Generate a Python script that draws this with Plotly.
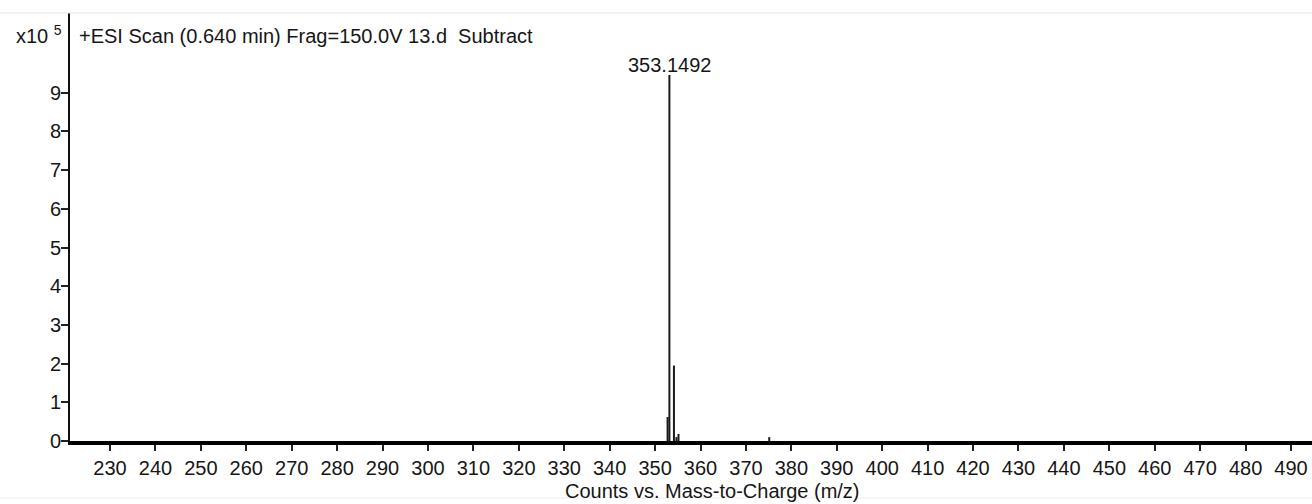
import plotly.graph_objects as go

# ---- data ----
mz = [352.75, 353.1492, 354.15, 354.70, 355.15, 375.13]
intensity = [0.62, 9.46, 1.95, 0.10, 0.18, 0.10]   # x10^5 counts
x_ticks = list(range(230, 491, 10))
y_ticks = list(range(0, 10))
peak_label = "353.1492"
title_text = "+ESI Scan (0.640 min) Frag=150.0V 13.d \u00a0Subtract"
x_title = "Counts vs. Mass-to-Charge (m/z)"

# stick spectrum built from the arrays
xs, ys = [], []
for m, h in zip(mz, intensity):
    xs += [m, m, None]
    ys += [0, h, None]

W, H = 1312, 504
ML, MR, MT, MB = 70, 0, 13, 63
PW, PH = W - ML - MR, H - MT - MB

def px(x):
    return (x - ML) / PW

def py(y):
    return (H - MB - y) / PH

FONT = "Liberation Sans, Arial, sans-serif"
TXT = "#161616"
FS = 20

fig = go.Figure()
fig.add_trace(go.Scatter(x=xs, y=ys, mode="lines",
                         line=dict(color="#1a1a1a", width=2),
                         hoverinfo="skip", showlegend=False))

fig.update_layout(
    width=W, height=H,
    margin=dict(l=ML, r=MR, t=MT, b=MB),
    paper_bgcolor="white", plot_bgcolor="white",
    font=dict(family=FONT, size=FS, color=TXT),
    showlegend=False,
    xaxis=dict(range=[221.19, 494.62], tickvals=x_ticks,
               ticktext=[str(v) for v in x_ticks],
               showgrid=False, zeroline=False,
               showline=True, linecolor="#000", linewidth=4,
               ticks="outside", ticklen=6, tickwidth=1.5, tickcolor="#222",
               tickfont=dict(size=FS, color=TXT)),
    yaxis=dict(range=[0, 11.06], tickvals=y_ticks,
               ticktext=[str(v) for v in y_ticks],
               showgrid=False, zeroline=False,
               showline=True, linecolor="#111", linewidth=2,
               ticks="outside", ticklen=7, tickwidth=1.5, tickcolor="#222",
               ticklabelstandoff=-4,
               tickfont=dict(size=FS, color=TXT)),
)

annotations = [
    dict(x=mz[1], y=intensity[1], xref="x", yref="y", text=peak_label,
         showarrow=False, xanchor="center", yanchor="bottom", yshift=-3,
         font=dict(size=FS, color=TXT)),
    dict(x=px(77), y=py(36), xref="paper", yref="paper", text=title_text,
         showarrow=False, xanchor="left", yanchor="middle",
         font=dict(size=FS, color=TXT)),
    dict(x=px(64), y=py(35), xref="paper", yref="paper",
         text="x10 <sup>5</sup>",
         showarrow=False, xanchor="right", yanchor="middle",
         font=dict(size=FS, color=TXT)),
    dict(x=px(712), y=py(491), xref="paper", yref="paper", text=x_title,
         showarrow=False, xanchor="center", yanchor="middle",
         font=dict(size=FS, color=TXT)),
]
fig.update_layout(annotations=annotations)

fig.update_layout(shapes=[
    dict(type="line", xref="paper", yref="paper", x0=px(0), x1=px(W),
         y0=py(13), y1=py(13), line=dict(color="#e4e4e4", width=1)),
    dict(type="line", xref="paper", yref="paper", x0=px(0), x1=px(W),
         y0=py(498), y1=py(498), line=dict(color="#eeeeee", width=1)),
])

fig.write_html("out.html")
